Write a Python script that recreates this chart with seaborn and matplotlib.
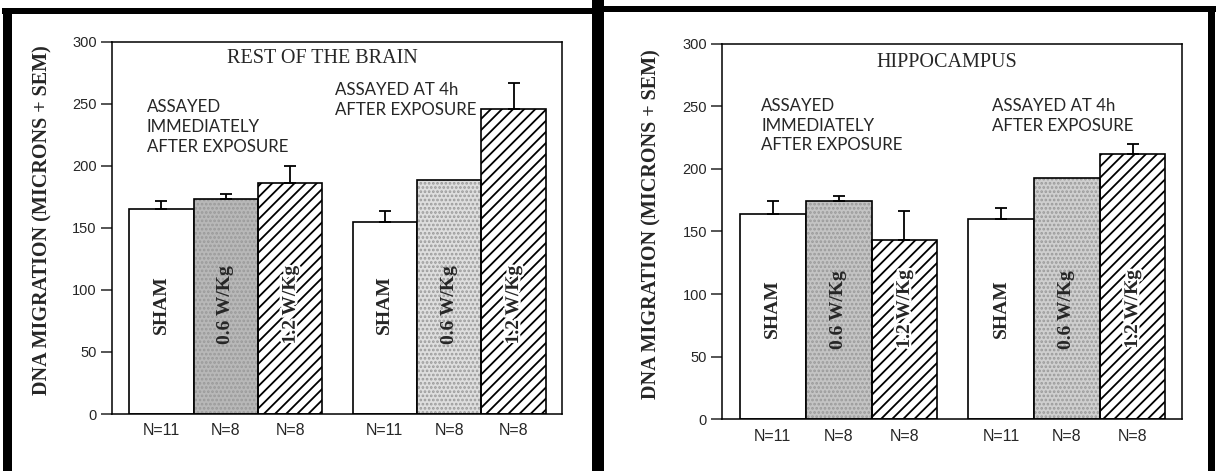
import seaborn as sns
import matplotlib.pyplot as plt
import pandas as pd
from matplotlib.patches import Rectangle
from matplotlib.lines import Line2D
import matplotlib.transforms as mtransforms
import matplotlib.patheffects as pe

# data
timing = ["Immediately", "Immediately", "Immediately", "4h", "4h", "4h"]
dose = ["SHAM", "0.6 W/Kg", "1.2 W/Kg", "SHAM", "0.6 W/Kg", "1.2 W/Kg"]
n_rats = ["N=11", "N=8", "N=8", "N=11", "N=8", "N=8"]

brain_mean = [165, 173, 186, 155, 189, 246]
brain_sem = [7, 4, 14, 9, 0, 21]

hippo_mean = [164, 174, 143, 160, 193, 212]
hippo_sem = [10, 4, 23, 9, 0, 8]

yticks = [0, 50, 100, 150, 200, 250, 300]

sns.set_style("ticks")
plt.rcParams["font.family"] = ["Liberation Sans", "DejaVu Sans"]
plt.rcParams["hatch.linewidth"] = 1.3

SERIF = ["Liberation Serif", "DejaVu Serif"]
LIGHT = ["Lato", "DejaVu Sans"]


def draw_panel(ax, means, sems, title, title_pos, left_note_pos, right_note_pos,
               stipple_colors):
    df = pd.DataFrame({"timing": timing, "dose": dose, "value": means})
    sns.barplot(data=df, x="timing", y="value", hue="dose",
                order=["Immediately", "4h"],
                hue_order=["SHAM", "0.6 W/Kg", "1.2 W/Kg"],
                palette=["white", "white", "white"], width=0.865,
                edgecolor="black", linewidth=1.2, legend=False, ax=ax,
                errorbar=None, saturation=1)

    bars = sorted(ax.patches, key=lambda p: p.get_x())
    stipple_i = 0
    trans = mtransforms.blended_transform_factory(ax.transData, ax.transAxes)
    for i, p in enumerate(bars):
        d = dose[i]
        cx = p.get_x() + p.get_width() / 2
        effects = None
        if d == "0.6 W/Kg":
            p.set_facecolor(stipple_colors[stipple_i])
            p.set_edgecolor("#9a9a9a")
            p.set_hatch("....")
            p.set_linewidth(0)
            ax.add_patch(Rectangle(p.get_xy(), p.get_width(), p.get_height(),
                                   fill=False, ec="black", lw=1.2, zorder=3))
            stipple_i += 1
        elif d == "1.2 W/Kg":
            p.set_hatch("///")
            effects = [pe.withStroke(linewidth=3.5, foreground="white")]
        # one-sided error bar (mean + SEM)
        if sems[i] > 0:
            ax.errorbar(cx, means[i], yerr=[[0], [sems[i]]], fmt="none",
                        ecolor="black", elinewidth=1.3, capsize=4,
                        capthick=1.3, zorder=4)
        ax.text(cx, 88, d, rotation=90, ha="center", va="center",
                fontsize=14, fontweight="bold", family=SERIF, zorder=5,
                path_effects=effects)
        ax.text(cx, -0.045, n_rats[i], transform=trans, ha="center",
                va="center", fontsize=11.5)

    ax.set_xlim(-0.51, 1.505)
    ax.set_ylim(0, 300)
    ax.set_yticks(yticks)
    ax.set_xticks([])
    ax.set_xlabel("")
    ax.set_ylabel("DNA MIGRATION (MICRONS + SEM)", family=SERIF,
                  fontsize=14.5, fontweight="bold")
    ax.yaxis.set_label_coords(-0.133, 0.52)
    ax.tick_params(axis="y", direction="out", length=8, width=1.1,
                   labelsize=10.5, pad=3)
    for s in ax.spines.values():
        s.set_visible(True)
        s.set_linewidth(1.1)
        s.set_color("black")

    ax.text(title_pos[0], title_pos[1], title, ha="center", va="center",
            fontsize=14.5, family=SERIF)
    ax.text(left_note_pos[0], left_note_pos[1],
            "ASSAYED\nIMMEDIATELY\nAFTER EXPOSURE", ha="left", va="top",
            fontsize=12.2, family=LIGHT, linespacing=1.3)
    ax.text(right_note_pos[0], right_note_pos[1],
            "ASSAYED AT 4h\nAFTER EXPOSURE", ha="left", va="top",
            fontsize=12.2, family=LIGHT, linespacing=1.3)


fig = plt.figure(figsize=(12.16, 4.71), dpi=100)
ax1 = fig.add_axes([0.0921, 0.121, 0.370, 0.790])
ax2 = fig.add_axes([0.594, 0.110, 0.378, 0.797])

draw_panel(ax1, brain_mean, brain_sem, "REST OF THE BRAIN", (0.43, 287),
           (-0.355, 254), (0.49, 268), ["#b8b8b8", "#dedede"])
draw_panel(ax2, hippo_mean, hippo_sem, "HIPPOCAMPUS", (0.475, 285),
           (-0.34, 257), (0.673, 257), ["#c4c4c4", "#cfcfcf"])

# thick black page frames around the two panels
W, H = 1216, 471
def frame_line(x0, y0, x1, y1, lw_px):
    fig.add_artist(Line2D([x0 / W, x1 / W], [1 - y0 / H, 1 - y1 / H],
                          transform=fig.transFigure, color="black",
                          lw=lw_px * 0.72, solid_capstyle="butt"))

frame_line(7, 10.5, 7, 471, 9)
frame_line(2, 10.5, 598, 10.5, 6)
frame_line(598, 0, 598, 471, 12)
frame_line(598, 9, 1216, 9, 6)
frame_line(1211, 6, 1211, 471, 7)

fig.savefig("out.png", dpi=100)
